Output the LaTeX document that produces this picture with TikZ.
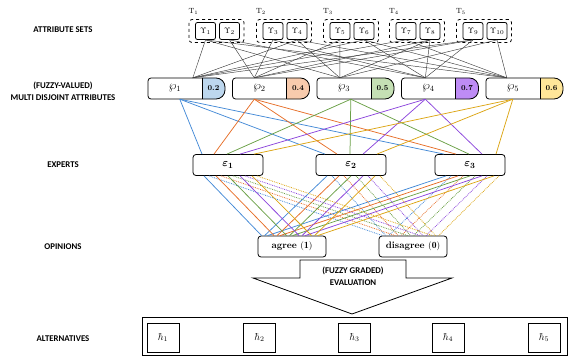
\documentclass[tikz,border=0pt]{standalone}
\usepackage{amsmath,bm}
\usepackage{fontspec}
\newfontfamily\labfont{Carlito}
\usetikzlibrary{calc}
\definecolor{lc1}{RGB}{68,138,214}
\definecolor{lc2}{RGB}{230,110,40}
\definecolor{lc3}{RGB}{106,160,70}
\definecolor{lc4}{RGB}{140,70,220}
\definecolor{lc5}{RGB}{220,165,20}
\definecolor{fc1}{RGB}{189,215,238}
\definecolor{fc2}{RGB}{248,203,173}
\definecolor{fc3}{RGB}{197,224,180}
\definecolor{fc4}{RGB}{190,140,245}
\definecolor{fc5}{RGB}{255,230,153}
\begin{document}
\begin{tikzpicture}[x=1pt,y=-1pt,
  lbl/.style={font=\labfont\bfseries\fontsize{8.8}{12}\selectfont, align=center, inner sep=0pt},
  ybox/.style={draw, fill=white, line width=0.8pt, rounded corners=2pt, minimum width=20pt, minimum height=17pt, inner sep=0pt, font=\fontsize{8.5}{8.5}\selectfont},
  tbox/.style={draw, dashed, line width=0.8pt, rounded corners=3pt, minimum width=55pt, minimum height=23pt, inner sep=0pt},
  tlab/.style={font=\fontsize{7.5}{7.5}\selectfont, inner sep=0pt},
  pnode/.style={minimum width=54pt, minimum height=21pt, inner sep=0pt, font=\fontsize{12}{12}\selectfont},
  vnode/.style={inner sep=0pt, font=\bfseries\fontsize{7.5}{7.5}\selectfont},
  enode/.style={draw, fill=white, line width=0.8pt, rounded corners=3pt, minimum width=70pt, minimum height=21pt, inner sep=0pt, font=\fontsize{11}{11}\selectfont},
  onode/.style={draw, fill=white, line width=0.8pt, rounded corners=3pt, minimum width=68pt, minimum height=21pt, inner sep=0pt, font=\bfseries\fontsize{9.5}{9.5}\selectfont},
  hnode/.style={draw, line width=0.8pt, minimum width=32pt, minimum height=29pt, inner sep=0pt, font=\fontsize{10}{10}\selectfont},
  mesh/.style={line width=0.45pt, black!75},
  cl/.style={line width=0.75pt},
  dl/.style={line width=0.8pt, densely dotted}
]
\useasboundingbox (0,0) rectangle (581,361);

% left labels
\node[lbl] (L1) at (63,30) {ATTRIBUTE SETS};
\node[lbl] (L2) at (63,91) {(FUZZY-VALUED)\\MULTI DISJOINT ATTRIBUTES};
\node[lbl] (L3) at (63,165) {EXPERTS};
\node[lbl] (L4) at (63,246.5) {OPINIONS};
\node[lbl] (L5) at (63,339) {ALTERNATIVES};

% attribute sets
\foreach \t/\tc in {1/216.5,2/284,3/351,4/417,5/484} {
  \node[tbox] (t\t) at (\tc,31) {};
  \node[tlab] (tl\t) at (\tc-23,11) {$\mathrm{T}_{\t}$};
}
\foreach \y/\yc in {1/205.5,2/229.5,3/273,4/297,5/340,6/364,7/406,8/430,9/473,10/497} {
  \node[ybox] (y\y) at (\yc,31) {$\Upsilon_{\y}$};
}

% attributes
\foreach \i/\v in {1/0.2,2/0.4,3/0.5,4/0.7,5/0.6} {
  \pgfmathsetmacro\xs{148+84.5*(\i-1)}
  \fill[fc\i, rounded corners=9pt] (\xs+54,78) -- (\xs+77,78) -- (\xs+77,99) -- (\xs+54,99);
  \draw[line width=0.8pt, rounded corners=3pt] (\xs+54,78) -- (\xs,78) -- (\xs,99) -- (\xs+54,99);
  \draw[line width=0.8pt, rounded corners=9pt] (\xs+54,78) -- (\xs+77,78) -- (\xs+77,99) -- (\xs+54,99);
  \draw[line width=0.8pt] (\xs+54,78) -- (\xs+54,99);
  \node[pnode] (p\i) at (\xs+27,88.5) {$\wp_{\i}$};
  \node[vnode] (v\i) at (\xs+65.5,88.5) {\v};
}
\foreach \i/\a/\b in {1/45/32,2/22/22,3/23/34,4/24/24,5/21/27} {
  \coordinate (pt\i) at ($(p\i.north west)+(\a,0)$);
  \coordinate (pb\i) at ($(p\i.south west)+(\b,0)$);
}

% mesh attribute sets -> attributes
\foreach \p/\yl in {1/{1,4,6,7,9},2/{2,3,5,8,9},3/{1,4,5,8,10},4/{2,3,6,8,9},5/{1,4,6,7,10}} {
  \foreach \y in \yl {
    \draw[mesh] (y\y.south) -- (pt\p);
  }
}

% experts
\node[enode] (e1) at (228,165) {$\bm{\varepsilon}_{\bm{1}}$};
\node[enode] (e2) at (351,165) {$\bm{\varepsilon}_{\bm{2}}$};
\node[enode] (e3) at (470,165) {$\bm{\varepsilon}_{\bm{3}}$};

% attributes -> experts
\foreach \k/\o in {1/-26,2/-14,3/-1,4/12,5/26} {
  \foreach \e in {1,2,3} {
    \draw[cl, color=lc\k] (pb\k) -- ($(e\e.north)+(\o,0)$);
  }
}

% opinions
\node[onode] (ag) at (292,246.5) {agree $\mathbf{(1)}$};
\node[onode] (dis) at (413,246.5) {disagree $\mathbf{(0)}$};

% experts -> opinions
\foreach \k in {1,...,5} {
  \foreach \e in {1,2,3} {
    \draw[dl, color=lc\k] ($(e\e.south)+({-19+12*(\k-1)},0)$) -- ($(dis.north west)+({4+12.5*(\k-1)+3*(\e-1)},0)$);
    \draw[cl, color=lc\k] ($(e\e.south)+({-24+12*(\k-1)},0)$) -- ($(ag.north west)+({4+12.5*(\k-1)+3*(\e-1)},0)$);
  }
}

% big arrow
\draw[line width=0.8pt] (300,260) -- (406,260) -- (406,278) -- (452,278) -- (352,314) -- (253,278) -- (300,278) -- cycle;
\node[lbl] (ev) at (353,276) {(FUZZY GRADED)\\EVALUATION};

% alternatives
\node[draw, line width=0.8pt, minimum width=425pt, minimum height=38pt, inner sep=0pt] (alt) at (354.5,336) {};
\foreach \h/\hx in {1/163,2/259.5,3/354.5,4/448,5/544} {
  \node[hnode] (h\h) at (\hx,337.5) {$\hbar_{\h}$};
}
\end{tikzpicture}
\end{document}
